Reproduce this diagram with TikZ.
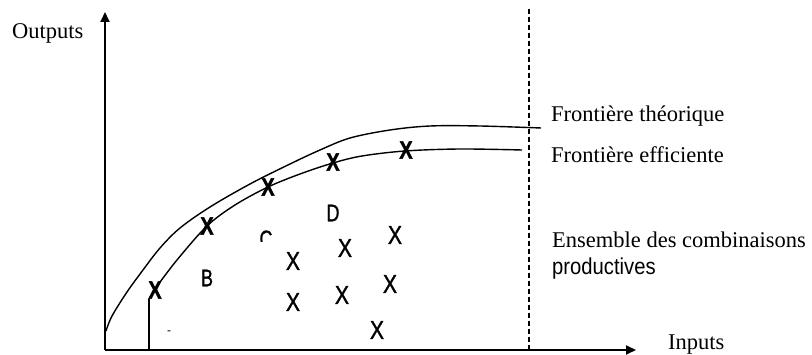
\documentclass[tikz,border=0pt]{standalone}
\usepackage{fontspec}
\setmainfont{Liberation Serif}
\setsansfont{Liberation Sans}
\newfontfamily\marksfont[FakeBold=1.2]{Liberation Sans}
\newfontfamily\boldmarksfont[FakeBold=1.5]{Liberation Sans Bold}
\usepackage{tikz}
\usetikzlibrary{arrows.meta,positioning}

\newcommand{\narrow}[2][0.82]{\scalebox{#1}[1]{#2}}

\tikzset{
  axis/.style={line width=2pt, -{Triangle[length=10pt,width=9pt]}},
  frontier/.style={line width=1.4pt, line join=round},
  lab/.style={inner sep=0pt, anchor=base west, font=\fontsize{22.5}{27}\selectfont},
  pt/.style={inner sep=0pt, font=\marksfont\fontsize{26}{26}\selectfont},
  letter/.style={inner sep=0pt, font=\marksfont\fontsize{24}{24}\selectfont},
  effpt/.style={inner sep=0pt, font=\boldmarksfont\fontsize{25}{25}\selectfont},
}

\begin{document}
\begin{tikzpicture}[x=1pt,y=-1pt]
            \useasboundingbox (0,0) rectangle (812,355);
            \coordinate (origin) at (105,350);
            \coordinate (ytip) at (105,12);
            \coordinate (xtip) at (636,350);
            \coordinate (dtop) at (529,9);
            \coordinate (dbot) at (529,350);
            \draw[axis] (origin) -- (ytip);
            \draw[axis] (origin) -- (xtip);
            \draw[line width=1.2pt, dash pattern=on 5pt off 3pt] (dtop) -- (dbot);
            % frontiere theorique
            \draw[frontier] plot[smooth, tension=0.55] coordinates {(106,331) (112,316) (127,292) (143,270) (160,248)
              (180,228) (210,207) (250,184) (290,164) (320,150) (350,138) (390,130) (430,126) (480,126) (541,128)};
            % frontiere efficiente
            \draw[frontier] plot[smooth, tension=0.55] coordinates {(150,298) (155,289) (177,260) (207,226) (235,205)
              (268,187) (300,174) (333,163) (362,156) (405,151) (460,149) (522,150)};
            \node[effpt] (xa) at (155,290) {\narrow[0.8]{X}};
            \node[effpt] (xb) at (207,226) {\narrow[0.8]{X}};
            \node[effpt] (xc) at (268,187) {\narrow[0.8]{X}};
            \node[effpt] (xd) at (333,162) {\narrow[0.8]{X}};
            \node[effpt] (xe) at (406,150) {\narrow[0.8]{X}};
            \draw[line width=1.2pt] (149,299) -- (149,350);
            \node[pt] (p1) at (293,261) {\narrow{X}};
            \node[pt] (p2) at (345,248) {\narrow{X}};
            \node[pt] (p3) at (395,235) {\narrow{X}};
            \node[pt] (p4) at (293,302) {\narrow{X}};
            \node[pt] (p5) at (342,295) {\narrow{X}};
            \node[pt] (p6) at (390,284) {\narrow{X}};
            \node[pt] (p7) at (377,330) {\narrow{X}};
            \node[letter] (lb) at (207,278) {\narrow[0.75]{B}};
            \node[letter] (ld) at (333,213) {\narrow[0.75]{D}};
            \begin{scope}
              \clip (255,225) rectangle (280,242);
              \node[letter] (lc) at (266,239) {\narrow[0.75]{C}};
            \end{scope}
            \node[letter, font=\sffamily\fontsize{12}{12}\selectfont] (dash) at (169,333) {-};
            \node[lab] (outputs) at (12,39) {Outputs};
            \node[lab] (inputs) at (668,350) {Inputs};
            \node[lab] (ftheo) at (551,122) {Frontière théorique};
            \node[lab] (feff) at (551,163) {Frontière efficiente};
            \node[lab] (ens) at (552,248) {Ensemble des combinaisons};
            \node[lab, font=\sffamily\fontsize{23}{26}\selectfont] (prod) at (552,275) {\narrow[0.88]{productives}};
        \end{tikzpicture}
\end{document}
